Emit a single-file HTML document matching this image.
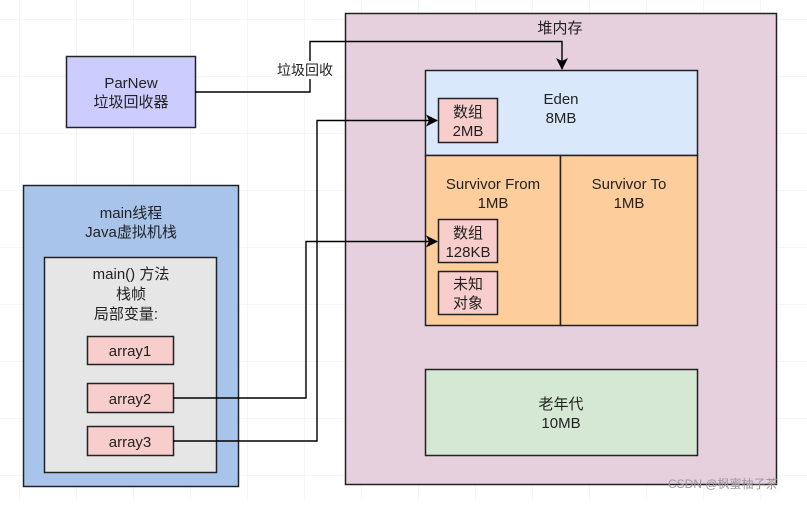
<!DOCTYPE html>
<html><head><meta charset="utf-8"><style>
body{margin:0;width:807px;height:500px;background:#fff;overflow:hidden;font-family:"Liberation Sans","Noto Sans CJK SC",sans-serif;}
</style></head><body>
<svg width="807" height="500" xmlns="http://www.w3.org/2000/svg" font-family="Liberation Sans, Noto Sans CJK SC, sans-serif" font-size="15" fill="#222">
<defs>
<pattern id="g" width="57" height="57" patternUnits="userSpaceOnUse" x="20" y="20"><path d="M57 0V57H0" fill="none" stroke="#eeeeee" stroke-width="1"/></pattern>
<marker id="a" markerWidth="12" markerHeight="12" refX="11" refY="6" orient="auto" markerUnits="userSpaceOnUse"><path d="M0,0L12,6L0,12L3,6z" fill="#000"/></marker>
</defs>
<rect width="807" height="500" fill="url(#g)"/>
<rect x="345.5" y="13.5" width="431" height="471" fill="#e6d0de" stroke="#222" stroke-width="1.5"/>
<text x="560" y="33" text-anchor="middle">堆内存</text>
<rect x="425.5" y="70.5" width="272" height="85" fill="#dae8fc" stroke="#222" stroke-width="1.5"/>
<text x="561" y="104" text-anchor="middle">Eden</text><text x="561" y="123" text-anchor="middle">8MB</text>
<rect x="425.5" y="155.5" width="135" height="170" fill="#fdcd9c" stroke="#222" stroke-width="1.5"/>
<rect x="560.5" y="155.5" width="137" height="170" fill="#fdcd9c" stroke="#222" stroke-width="1.5"/>
<text x="493" y="189" text-anchor="middle">Survivor From</text><text x="493" y="208" text-anchor="middle">1MB</text>
<text x="629" y="189" text-anchor="middle">Survivor To</text><text x="629" y="208" text-anchor="middle">1MB</text>
<rect x="425.5" y="369.5" width="272" height="86" fill="#d5e8d4" stroke="#222" stroke-width="1.5"/>
<text x="561" y="409" text-anchor="middle">老年代</text><text x="561" y="428" text-anchor="middle">10MB</text>
<rect x="438.5" y="98.5" width="59" height="44" fill="#f8cecc" stroke="#222" stroke-width="1.5"/>
<text x="468" y="117" text-anchor="middle">数组</text><text x="468" y="136" text-anchor="middle">2MB</text>
<rect x="438.5" y="219.5" width="59" height="43" fill="#f8cecc" stroke="#222" stroke-width="1.5"/>
<text x="468" y="238" text-anchor="middle">数组</text><text x="468" y="257" text-anchor="middle">128KB</text>
<rect x="438.5" y="271.5" width="59" height="43" fill="#f8cecc" stroke="#222" stroke-width="1.5"/>
<text x="468" y="289" text-anchor="middle">未知</text><text x="468" y="308" text-anchor="middle">对象</text>
<rect x="66.5" y="56.5" width="129" height="71" fill="#ccccff" stroke="#222" stroke-width="1.5"/>
<text x="131" y="88" text-anchor="middle">ParNew</text><text x="131" y="107" text-anchor="middle">垃圾回收器</text>
<rect x="23.5" y="185.5" width="215" height="301" fill="#a9c4eb" stroke="#222" stroke-width="1.5"/>
<text x="131" y="218" text-anchor="middle">main线程</text><text x="131" y="237" text-anchor="middle">Java虚拟机栈</text>
<rect x="44.5" y="257.5" width="172" height="215" fill="#e6e6e6" stroke="#222" stroke-width="1.5"/>
<text x="131" y="279" text-anchor="middle">main() 方法</text><text x="131" y="299" text-anchor="middle">栈帧</text><text x="126" y="319" text-anchor="middle">局部变量:</text>
<rect x="87.5" y="336.5" width="86" height="28" fill="#f8cecc" stroke="#222" stroke-width="1.5"/><text x="130" y="356" text-anchor="middle">array1</text>
<rect x="87.5" y="383.5" width="86" height="29" fill="#f8cecc" stroke="#222" stroke-width="1.5"/><text x="130" y="404" text-anchor="middle">array2</text>
<rect x="87.5" y="426.5" width="86" height="29" fill="#f8cecc" stroke="#222" stroke-width="1.5"/><text x="130" y="447" text-anchor="middle">array3</text>
<g fill="none" stroke="#000" stroke-width="1.4">
<path d="M195 92H310V41.5H562V69" marker-end="url(#a)"/>
<path d="M173 441H317V120.5H437" marker-end="url(#a)"/>
<path d="M173 398H306V241.5H437" marker-end="url(#a)"/>
</g>
<rect x="272" y="61" width="66" height="18" fill="#fff"/>
<text x="305" y="75" text-anchor="middle" font-size="14">垃圾回收</text>
<text x="668" y="488" font-size="12" fill="#999">CSDN @枫蜜柚子茶</text>
</svg>
</body></html>
